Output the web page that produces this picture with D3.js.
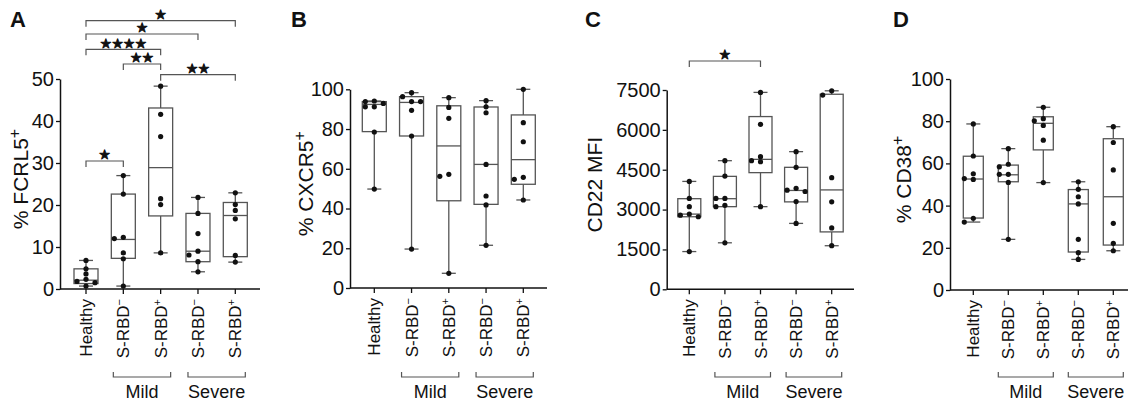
<!DOCTYPE html>
<html>
<head>
<meta charset="utf-8">
<script src="https://cdn.jsdelivr.net/npm/d3@7"></script>
<style>
body { margin: 0; background: #fff; }
svg { display: block; font-family: "Liberation Sans", Arial, Helvetica, sans-serif; }
</style>
</head>
<body>
<div id="chart"></div>
<script>
const W = 1128, H = 407;

// categories
const groups = ["Healthy", "Mild S-RBD-", "Mild S-RBD+", "Severe S-RBD-", "Severe S-RBD+"];
const groupText = ["Healthy", "S-RBD", "S-RBD", "S-RBD", "S-RBD"];
const groupSign = ["", "\u2212", "+", "\u2212", "+"];
const severityNames = ["Mild", "Severe"];
const severitySpan = [["Mild S-RBD-", "Mild S-RBD+"], ["Severe S-RBD-", "Severe S-RBD+"]];

// A: % FCRL5+
const fcrl5Ticks = [0, 10, 20, 30, 40, 50];
const fcrl5Points = [
    [6.8, 4.8, 3.6, 2.3, 1.8, 1.5, 0.7],
    [27.0, 22.6, 12.3, 12.0, 8.6, 7.2, 0.7],
    [48.3, 41.6, 36.3, 21.5, 20.1, 8.6],
    [21.8, 18.0, 13.2, 9.0, 8.1, 6.5, 4.1],
    [22.9, 20.1, 18.7, 16.7, 8.0, 6.4]
];
// [min, q1, median, q3, max]
const fcrl5Boxes = [
    [0.7, 1.3, 2.1, 4.8, 6.8],
    [0.7, 7.3, 11.8, 22.6, 27.0],
    [8.6, 17.4, 28.9, 43.1, 48.3],
    [4.1, 6.5, 9.0, 18.0, 21.8],
    [6.4, 7.7, 17.5, 20.6, 22.9]
];
// [group, group, number of stars]
const fcrl5Sig = [
    ["Healthy", "Severe S-RBD+", 1],
    ["Healthy", "Severe S-RBD-", 1],
    ["Healthy", "Mild S-RBD+", 4],
    ["Mild S-RBD-", "Mild S-RBD+", 2],
    ["Mild S-RBD+", "Severe S-RBD+", 2],
    ["Healthy", "Mild S-RBD-", 1]
];

// B: % CXCR5+
const cxcr5Ticks = [0, 20, 40, 60, 80, 100];
const cxcr5Points = [
    [94.1, 93.8, 92.9, 91.2, 91.2, 78.5, 49.8],
    [98.3, 96.3, 93.8, 93.8, 89.4, 76.5, 19.6],
    [95.8, 90.9, 85.4, 57.2, 56.2, 7.4],
    [94.3, 91.2, 88.2, 62.2, 46.3, 41.8, 21.5],
    [100, 83.2, 73.6, 55.7, 54.7, 44.3]
];
const cxcr5Boxes = [
    [49.8, 78.7, 92.4, 93.8, 94.1],
    [19.6, 76.5, 93.4, 96.3, 98.3],
    [7.4, 43.9, 71.5, 91.7, 95.8],
    [21.5, 42.1, 62.2, 91.1, 94.3],
    [44.3, 52.2, 64.6, 87.1, 100]
];

// C: CD22 MFI
const cd22Ticks = [0, 1500, 3000, 4500, 6000, 7500];
const cd22Points = [
    [4060, 3420, 3110, 2830, 2790, 2730, 1420],
    [4840, 4260, 3420, 3420, 3160, 3110, 1750],
    [7410, 6210, 4990, 4840, 4800, 3110],
    [5180, 4590, 3800, 3730, 3680, 3300, 2480],
    [7470, 7310, 4200, 3290, 2310, 1640]
];
const cd22Boxes = [
    [1420, 2730, 2830, 3410, 4060],
    [1750, 3110, 3410, 4250, 4840],
    [3110, 4390, 4890, 6500, 7410],
    [2480, 3290, 3720, 4590, 5180],
    [1640, 2160, 3740, 7340, 7470]
];
const cd22Sig = [["Healthy", "Mild S-RBD+", 1]];

// D: % CD38+
const cd38Ticks = [0, 20, 40, 60, 80, 100];
const cd38Points = [
    [78.7, 63.5, 55.1, 52.8, 52.4, 34.0, 32.2],
    [67.0, 59.6, 58.4, 54.8, 54.8, 51.0, 24.0],
    [86.6, 81.2, 80.2, 78.0, 71.0, 50.9],
    [51.3, 47.7, 44.2, 40.8, 24.0, 17.7, 14.5],
    [77.4, 69.9, 56.9, 31.6, 22.1, 18.6]
];
const cd38Boxes = [
    [32.2, 34.1, 52.6, 63.4, 78.7],
    [24.0, 51.3, 54.6, 59.2, 67.0],
    [50.9, 66.4, 79.0, 82.1, 86.6],
    [14.5, 18.0, 40.8, 47.6, 51.3],
    [18.6, 21.3, 44.2, 71.7, 77.4]
];

const panels = [
    { letter: "A", label: "% FCRL5", sup: "+", ticks: fcrl5Ticks, points: fcrl5Points, boxes: fcrl5Boxes, sig: fcrl5Sig },
    { letter: "B", label: "% CXCR5", sup: "+", ticks: cxcr5Ticks, points: cxcr5Points, boxes: cxcr5Boxes, sig: [] },
    { letter: "C", label: "CD22 MFI", sup: "", ticks: cd22Ticks, points: cd22Points, boxes: cd22Boxes, sig: cd22Sig },
    { letter: "D", label: "% CD38", sup: "+", ticks: cd38Ticks, points: cd38Points, boxes: cd38Boxes, sig: [] }
];

// pixel layout per panel
const layout = [
    { axisX: 60, top: 79, bottom: 289, xEnd: 260, first: 86, last: 235.3, boxW: 24, letterX: 10, labelX: 20, sigY: [20.7, 34, 49.3, 64, 74.7, 161] },
    { axisX: 350, top: 89.3, bottom: 288, xEnd: 547, first: 374.3, last: 523.3, boxW: 24, letterX: 291, labelX: 305, sigY: [] },
    { axisX: 666.7, top: 90, bottom: 289.3, xEnd: 854, first: 689.3, last: 831.7, boxW: 23, letterX: 585, labelX: 594, sigY: [61] },
    { axisX: 950, top: 79, bottom: 290, xEnd: 1136, first: 973.3, last: 1113.3, boxW: 20, letterX: 893, labelX: 903, sigY: [] }
];

const ink = "#111";
const boxInk = "#555";

const svg = d3.select("#chart")
    .append("svg")
    .attr("width", W)
    .attr("height", H);

// simple beeswarm: spread dots that would overlap
function swarm(ys, step, minDist) {
    const placed = [];
    const order = ys.map((y, i) => i).sort((a, b) => ys[a] - ys[b]);
    const out = new Array(ys.length);
    const cands = [0, -step, step, -2 * step, 2 * step];
    order.forEach(i => {
        const y = ys[i];
        let dx = cands.find(c => placed.every(p => Math.hypot(p.x - c, p.y - y) >= minDist));
        if (dx === undefined) dx = 0;
        placed.push({ x: dx, y: y });
        out[i] = dx;
    });
    return out;
}

panels.forEach((p, pi) => {
    const L = layout[pi];
    const g = svg.append("g");

    const x = d3.scalePoint().domain(groups).range([L.first, L.last]);
    const y = d3.scaleLinear().domain([0, d3.max(p.ticks)]).range([L.bottom, L.top]);

    // panel letter
    g.append("text")
        .attr("x", L.letterX)
        .attr("y", 27)
        .style("font-size", "22px")
        .style("font-weight", "bold")
        .style("fill", ink)
        .text(p.letter);

    // y axis
    const yAxis = g.append("g")
        .attr("transform", `translate(${L.axisX},0)`)
        .call(d3.axisLeft(y).tickValues(p.ticks).tickFormat(d3.format("d"))
            .tickSize(4).tickSizeOuter(0).tickPadding(2));
    yAxis.select(".domain").attr("stroke", ink).attr("stroke-width", 1.5);
    yAxis.selectAll(".tick line").attr("stroke", ink).attr("stroke-width", 1.3);
    yAxis.selectAll(".tick text")
        .style("font-size", "20px")
        .style("font-family", "'Liberation Sans', Arial, sans-serif")
        .attr("fill", ink);

    // x axis
    g.append("line")
        .attr("x1", L.axisX).attr("x2", L.xEnd)
        .attr("y1", L.bottom).attr("y2", L.bottom)
        .attr("stroke", ink).attr("stroke-width", 1.5);
    g.selectAll(".xtick")
        .data(groups)
        .enter().append("line")
        .attr("x1", d => x(d)).attr("x2", d => x(d))
        .attr("y1", L.bottom).attr("y2", L.bottom + 5)
        .attr("stroke", ink).attr("stroke-width", 1.3);

    // category labels
    const cat = g.selectAll(".cat")
        .data(groups)
        .enter().append("text")
        .attr("transform", d => `translate(${x(d)},${L.bottom + 10}) rotate(-90)`)
        .attr("text-anchor", "end")
        .attr("dy", "0.36em")
        .style("font-size", "17px")
        .style("fill", ink);
    cat.append("tspan").text((d, i) => groupText[i]);
    cat.append("tspan")
        .attr("dy", "-0.55em")
        .style("font-size", "11px")
        .text((d, i) => groupSign[i]);

    // severity brackets
    severityNames.forEach((name, si) => {
        const x0 = x(severitySpan[si][0]) - 10;
        const x1 = x(severitySpan[si][1]) + 10;
        g.append("path")
            .attr("d", `M${x0},372V377H${x1}V372`)
            .attr("fill", "none")
            .attr("stroke", boxInk)
            .attr("stroke-width", 1.2);
        g.append("text")
            .attr("x", (x0 + x1) / 2)
            .attr("y", 398)
            .attr("text-anchor", "middle")
            .style("font-size", "18px")
            .style("fill", ink)
            .text(name);
    });

    // y label
    const yl = g.append("text")
        .attr("transform", `translate(${L.labelX},${(L.top + L.bottom) / 2 - 5}) rotate(-90)`)
        .attr("text-anchor", "middle")
        .attr("dy", "0.36em")
        .style("font-size", "21px")
        .style("fill", ink);
    yl.append("tspan").text(p.label);
    if (p.sup) {
        yl.append("tspan").attr("dy", "-0.5em").style("font-size", "16px").text(p.sup);
    }

    // boxes and whiskers
    const bw = L.boxW, cap = 14;
    p.boxes.forEach((b, i) => {
        const cx = x(groups[i]);
        const [mn, q1, md, q3, mx] = b;
        g.append("line")
            .attr("x1", cx).attr("x2", cx)
            .attr("y1", y(mx)).attr("y2", y(q3))
            .attr("stroke", boxInk).attr("stroke-width", 1.3);
        g.append("line")
            .attr("x1", cx).attr("x2", cx)
            .attr("y1", y(q1)).attr("y2", y(mn))
            .attr("stroke", boxInk).attr("stroke-width", 1.3);
        [mn, mx].forEach(v => {
            g.append("line")
                .attr("x1", cx - cap / 2).attr("x2", cx + cap / 2)
                .attr("y1", y(v)).attr("y2", y(v))
                .attr("stroke", boxInk).attr("stroke-width", 1.3);
        });
        g.append("rect")
            .attr("x", cx - bw / 2)
            .attr("y", y(q3))
            .attr("width", bw)
            .attr("height", y(q1) - y(q3))
            .attr("fill", "none")
            .attr("stroke", boxInk)
            .attr("stroke-width", 1.3);
        g.append("line")
            .attr("x1", cx - bw / 2).attr("x2", cx + bw / 2)
            .attr("y1", y(md)).attr("y2", y(md))
            .attr("stroke", boxInk).attr("stroke-width", 1.3);
    });

    // points
    p.points.forEach((vals, i) => {
        const cx = x(groups[i]);
        const ys = vals.map(v => y(v));
        const offs = swarm(ys, 9, 5);
        g.selectAll(null)
            .data(vals)
            .enter().append("circle")
            .attr("cx", (d, j) => cx + offs[j])
            .attr("cy", d => y(d))
            .attr("r", 2.6)
            .attr("fill", ink);
    });

    // significance brackets
    p.sig.forEach((s, k) => {
        const x0 = x(s[0]), x1 = x(s[1]);
        const sy = L.sigY[k];
        g.append("path")
            .attr("d", `M${x0},${sy + 6}V${sy}H${x1}V${sy + 6}`)
            .attr("fill", "none")
            .attr("stroke", boxInk)
            .attr("stroke-width", 1.2);
        g.append("text")
            .attr("x", (x0 + x1) / 2)
            .attr("y", sy - 1.8)
            .attr("text-anchor", "middle")
            .style("font-family", "'DejaVu Sans', sans-serif")
            .style("font-size", "13px")
            .style("fill", ink)
            .style("stroke", ink)
            .style("stroke-width", "0.9px")
            .style("stroke-linejoin", "round")
            .text("\u2605".repeat(s[2]));
    });
});
</script>
</body>
</html>
